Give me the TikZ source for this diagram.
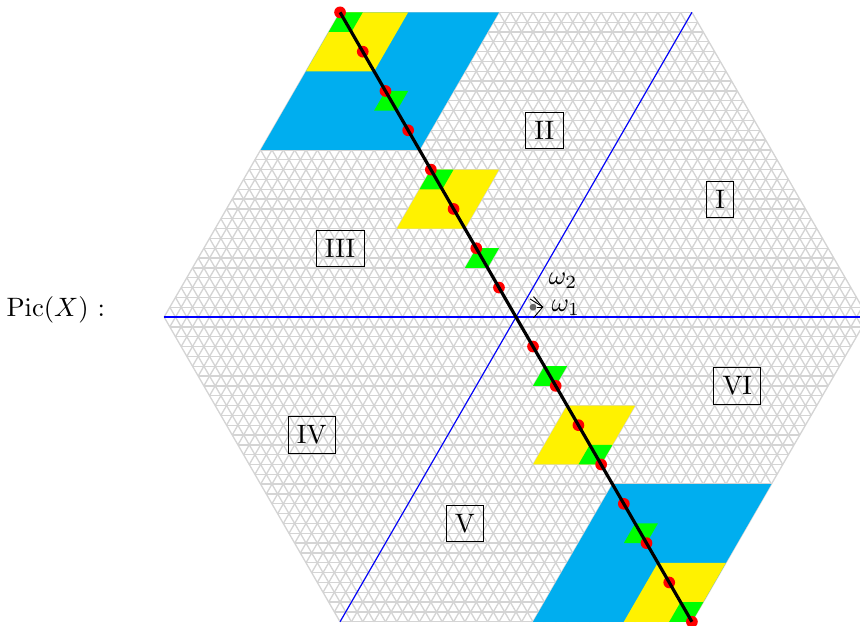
\documentclass[tikz,border=0pt]{standalone}
\usepackage{amsmath,amssymb}
\usetikzlibrary{arrows.meta,positioning}
\definecolor{dyncyan}{RGB}{0,174,239}
\definecolor{dynyellow}{RGB}{255,242,0}
\definecolor{dyngreen}{RGB}{0,255,0}
\definecolor{dynred}{RGB}{255,0,0}
\begin{document}
\begin{tikzpicture}[x={(0.15cm,0cm)},y={(0.075cm,0.1299cm)}]
\tikzset{
  gridline/.style={line width=0.5pt,color=black!17},
  wall/.style={line width=0.42pt,color=blue},
  chamber/.style={rectangle,draw,thin,inner sep=3.33pt},
  weightline/.style={line width=1.2pt,color=black},
  tinyarrow/.style={-{Straight Barb[length=1.2mm,width=2.8mm]},line width=0.35pt},
  weightdot/.style={fill=dynred}
}
\useasboundingbox (-6.819cm,-4.07cm) rectangle (4.546cm,4.19cm);
% triangular lattice
\foreach \k in {-31,...,31} {
  \pgfmathtruncatemacro{\lo}{-31-min(\k,0)}
  \pgfmathtruncatemacro{\hi}{31-max(\k,0)}
  \pgfmathtruncatemacro{\los}{-31+max(\k,0)}
  \pgfmathtruncatemacro{\his}{31+min(\k,0)}
  \pgfmathtruncatemacro{\jl}{\k-\los}
  \pgfmathtruncatemacro{\jh}{\k-\his}
  \draw[gridline] (\lo,\k) -- (\hi,\k);
  \draw[gridline] (\k,\lo) -- (\k,\hi);
  \draw[gridline] (\los,\jl) -- (\his,\jh);
}
% nested parallelograms
\foreach \c/\w/\col in {-31/14/dyncyan,31/-14/dyncyan,
    -31/6/dynyellow,-15/6/dynyellow,15/-6/dynyellow,31/-6/dynyellow,
    -31/2/dyngreen,-23/2/dyngreen,-15/2/dyngreen,-7/2/dyngreen,
    7/-2/dyngreen,15/-2/dyngreen,23/-2/dyngreen,31/-2/dyngreen} {
  \fill[\col] (\c,-\c) -- ++(\w,0) -- ++(0,-\w) -- ++(-\w,0) -- cycle;
}
\coordinate (w_left) at (-31,0);
\coordinate (w_right) at (31,0);
\coordinate (w_low) at (0,-31);
\coordinate (w_up) at (0,31);
\coordinate (w_start) at (-31,31);
\coordinate (w_end) at (31,-31);
\draw[wall] (w_left) -- (w_right);
\draw[wall] (w_low) -- (w_up);
\foreach \c in {-31,-27,-23,-19,-15,-11,-7,-3,3,7,11,15,19,23,27,31} {
  \fill[weightdot] (\c,-\c) circle (2.2pt);
}
\draw[weightline] (w_start) -- (w_end);
\node[chamber] (n_i) at (12,12) {I};
\node[chamber] (n_ii) at (-7,19) {II};
\node[chamber] (n_iii) at (-19,7) {III};
\node[chamber] (n_iv) at (-12,-12) {IV};
\node[chamber] (n_v) at (6,-21) {V};
\node[chamber] (n_vi) at (23,-7) {VI};
\node[circle,fill=black!60,inner sep=0pt,minimum size=2.6pt] (n_rho) at (1,1) {};
\coordinate (n_tip1) at (1.9,1);
\coordinate (n_tip2) at (0.3,1.85);
\draw[tinyarrow] (n_rho) -- (n_tip1);
\draw[line width=0.35pt] (n_tip2) -- (n_tip1);
\node (n_om1) at (3.95,0.9) {$\omega_1$};
\node (n_om2) at (2.3,3.7) {$\omega_2$};
\node (n_pic) at (-40.9,0.7) {$\mathrm{Pic}(X)$ :};
\end{tikzpicture}
\end{document}
